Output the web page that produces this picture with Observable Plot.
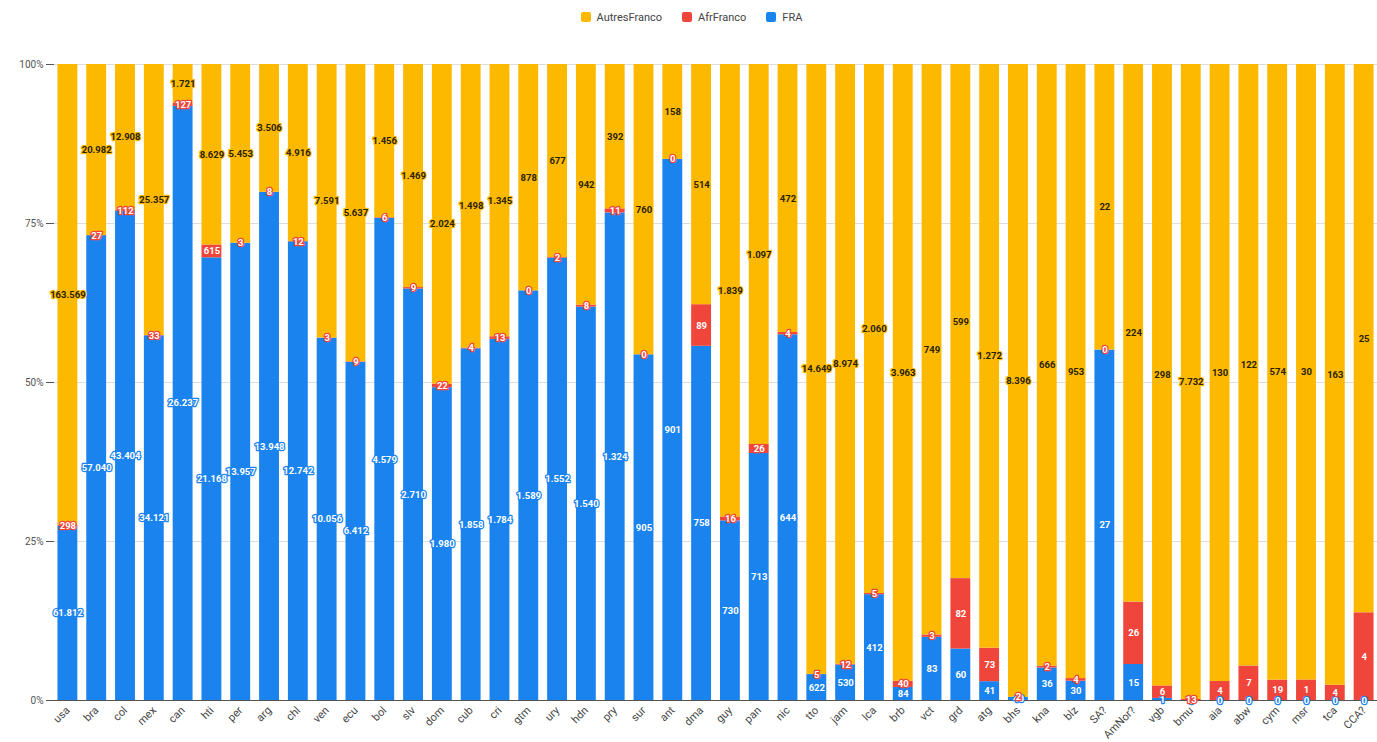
<!DOCTYPE html>
<html><head><meta charset="utf-8">
<script src="https://cdn.jsdelivr.net/npm/d3@7"></script>
<script src="https://cdn.jsdelivr.net/npm/@observablehq/plot@0.6"></script>
<style>
body{margin:0;background:#fff;font-family:Roboto,"Liberation Sans",Arial,sans-serif;}
#legend{height:34px;display:flex;justify-content:center;align-items:center;gap:20px;font-size:11px;color:#444;padding-left:6px;box-sizing:border-box}
#legend span.item{display:inline-flex;align-items:center}
#legend .sw{display:inline-block;width:10px;height:10px;border-radius:2px;margin-right:6px}
</style></head>
<body><div id="legend"></div><div id="chart"></div>
<script>
const categories = ["usa","bra","col","mex","can","hti","per","arg","chl","ven","ecu","bol","slv","dom","cub","cri","gtm","ury","hdn","pry","sur","ant","dma","guy","pan","nic","tto","jam","lca","brb","vct","grd","atg","bhs","kna","blz","SA?","AmNor?","vgb","bmu","aia","abw","cym","msr","tca","CCA?"];
const seriesNames = ["FRA","AfrFranco","AutresFranco"];
const legendOrder = ["AutresFranco","AfrFranco","FRA"];
const seriesColors = ["#1b83ee","#f0453a","#fcb900"];
const fra = [61812,57040,43404,34121,26237,21168,13957,13948,12742,10056,6412,4579,2710,1980,1858,1784,1589,1552,1540,1324,905,901,758,730,713,644,622,530,412,84,83,60,41,40,36,30,27,15,1,0,0,0,0,0,0,0];
const afrFranco = [298,27,112,33,127,615,3,8,12,3,9,6,9,22,4,13,0,2,8,11,0,0,89,16,26,4,5,12,5,40,3,82,73,2,2,4,0,26,6,13,4,7,19,1,4,4];
const autresFranco = [163569,20982,12908,25357,1721,8629,5453,3506,4916,7591,5637,1456,1469,2024,1498,1345,878,677,942,392,760,158,514,1839,1097,472,14649,8974,2060,3963,749,599,1272,8396,666,953,22,224,298,7732,130,122,574,30,163,25];
const yTicks = [0,0.25,0.5,0.75,1];
const yTickLabels = ["0%","25%","50%","75%","100%"];

const seriesValues = [fra, afrFranco, autresFranco];
const data = [];
seriesNames.forEach((s, si) => categories.forEach((c, ci) => data.push({cat: c, series: s, value: seriesValues[si][ci]})));

const fmt = d3.formatLocale({decimal: ",", thousands: ".", grouping: [3], currency: ["", ""]}).format(",d");

// legend
const legend = document.getElementById("legend");
legendOrder.forEach(s => {
  const it = document.createElement("span");
  it.className = "item";
  const sw = document.createElement("span");
  sw.className = "sw";
  sw.style.background = seriesColors[seriesNames.indexOf(s)];
  it.appendChild(sw);
  it.appendChild(document.createTextNode(s));
  legend.appendChild(it);
});

const stackOpts = {x: "cat", y: "value", z: "series", order: seriesNames, offset: "normalize"};
const labelMark = (s, fill, stroke) => Plot.text(data, Plot.stackY({
  ...stackOpts,
  text: d => d.series === s ? fmt(d.value) : null,
  fill, stroke, strokeWidth: 2.5, fontSize: 9.5, fontWeight: "bold", paintOrder: "stroke"
}));

const chart = Plot.plot({
  width: 1377,
  height: 708,
  marginTop: 30,
  marginBottom: 42,
  marginLeft: 54,
  marginRight: 0,
  style: {fontFamily: "Roboto, 'Liberation Sans', Arial, sans-serif", fontSize: "10px", color: "#555", background: "#fff"},
  y: {domain: [0, 1], ticks: yTicks, tickFormat: (d, i) => yTickLabels[yTicks.indexOf(d)], label: null, tickSize: 8, tickPadding: 3},
  x: {domain: categories, paddingInner: 0.31, paddingOuter: 0.12, axis: null},
  color: {domain: seriesNames, range: seriesColors},
  marks: [
    Plot.axisX({tickRotate: -45, tickSize: 0, tickPadding: 8, fontSize: 11, label: null, fill: "#444"}),
    Plot.ruleY(yTicks.slice(1), {stroke: "#ddd"}),
    Plot.barY(data, Plot.stackY({...stackOpts, fill: "series"})),
    Plot.ruleY([0], {stroke: "#555", strokeWidth: 1.2}),
    labelMark("FRA", "white", "#1b83ee"),
    labelMark("AfrFranco", "white", "#f0453a"),
    labelMark("AutresFranco", "#2a2200", "#fcb900")
  ]
});
document.getElementById("chart").appendChild(chart);
</script>
</body></html>
